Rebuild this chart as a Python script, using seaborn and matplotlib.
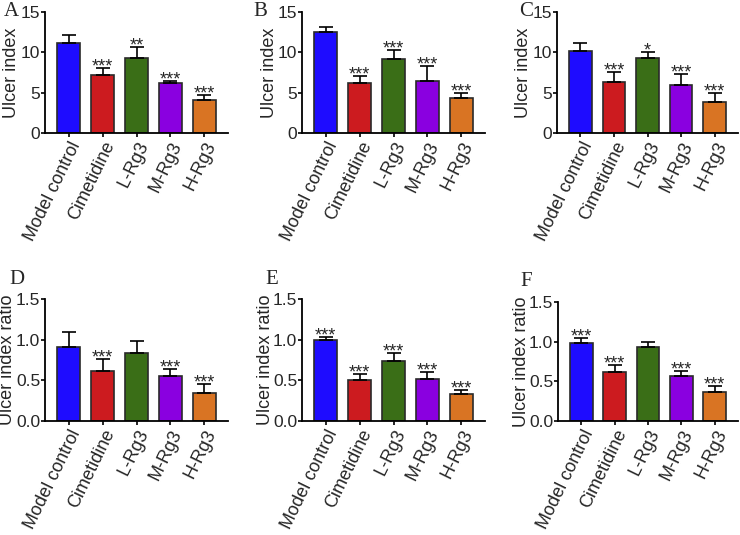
import numpy as np
import pandas as pd
import seaborn as sns
import matplotlib.pyplot as plt

sns.set_style("ticks")
plt.rcParams['font.family'] = ['Liberation Sans', 'DejaVu Sans']

groups = ["Model control", "Cimetidine", "L-Rg3", "M-Rg3", "H-Rg3"]
colors = ["#1e0cff", "#cc1b1f", "#3a6e17", "#8a00e0", "#d97423"]

# panel values (mean) and upper error (SD)
a_mean = [11.1, 7.2, 9.3, 6.2, 4.1]
a_err = [1.1, 0.8, 1.4, 0.3, 0.6]
a_sig = ["", "***", "**", "***", "***"]

b_mean = [12.5, 6.2, 9.2, 6.4, 4.4]
b_err = [0.7, 0.9, 1.1, 1.9, 0.5]
b_sig = ["", "***", "***", "***", "***"]

c_mean = [10.2, 6.3, 9.3, 5.9, 3.8]
c_err = [0.9, 1.3, 0.7, 1.4, 1.1]
c_sig = ["", "***", "*", "***", "***"]

d_mean = [0.91, 0.62, 0.83, 0.55, 0.35]
d_err = [0.18, 0.14, 0.15, 0.09, 0.11]
d_sig = ["", "***", "", "***", "***"]

e_mean = [0.99, 0.51, 0.74, 0.52, 0.33]
e_err = [0.04, 0.07, 0.10, 0.08, 0.05]
e_sig = ["***", "***", "***", "***", "***"]

f_mean = [0.98, 0.62, 0.93, 0.57, 0.37]
f_err = [0.06, 0.09, 0.07, 0.06, 0.07]
f_sig = ["***", "***", "", "***", "***"]

W, H = 740, 535
fig = plt.figure(figsize=(7.4, 5.35), dpi=100)


def panel(rect, mean, err, sig, letter, letter_xy, ylabel, ymax, yticks, ytl, lab_off):
    l, t, r, b = rect
    ax = fig.add_axes([l / W, 1 - b / H, (r - l) / W, (b - t) / H])
    df = pd.DataFrame({"group": groups, "value": mean})
    sns.barplot(data=df, x="group", y="value", hue="group", palette=colors,
                legend=False, width=0.68, edgecolor="#2a2a2a", linewidth=1.2,
                saturation=1, ax=ax)
    x = np.arange(len(groups))
    ax.errorbar(x, mean, yerr=[np.zeros(len(mean)), err], fmt="none",
                ecolor="black", elinewidth=1.2, capsize=5, capthick=1.2)
    for xi, m, e, s in zip(x, mean, err, sig):
        if s:
            ax.annotate(s, (xi, m + e), xytext=(0, -2.5), textcoords="offset points",
                        ha="center", va="baseline", fontsize=13)
    ax.set_xlim(-0.7, 4.7)
    ax.set_ylim(0, ymax)
    ax.set_yticks(yticks)
    ax.set_yticklabels(ytl, fontsize=12.5)
    ax.set_xticks(x)
    ax.set_xticklabels(groups, rotation=64, ha="right", rotation_mode="anchor", fontsize=13)
    ax.set_xlabel("")
    ax.set_ylabel(ylabel, fontsize=13, va="center")
    ax.yaxis.set_label_coords(-lab_off / (r - l), 0.5)
    for sp in ["top", "right"]:
        ax.spines[sp].set_visible(False)
    for sp in ["left", "bottom"]:
        ax.spines[sp].set_linewidth(1.3)
        ax.spines[sp].set_color("black")
    ax.tick_params(axis="both", length=3, width=1.2, color="black", pad=1)
    ax.tick_params(axis="y", pad=0.5)
    fig.text(letter_xy[0] / W, 1 - letter_xy[1] / H, letter, fontsize=15,
             family="Liberation Serif", ha="left", va="top")
    return ax


top_ticks = [0, 5, 10, 15]
top_tl = ["0", "5", "10", "15"]
bot_ticks = [0, 0.5, 1.0, 1.5]
bot_tl = ["0.0", "0.5", "1.0", "1.5"]

panel((45, 12, 228, 133), a_mean, a_err, a_sig, "A", (4, 2), "Ulcer index", 15, top_ticks, top_tl, 33)
panel((302, 12, 485, 133), b_mean, b_err, b_sig, "B", (253, 2), "Ulcer index", 15, top_ticks, top_tl, 33)
panel((557, 12, 738, 133), c_mean, c_err, c_sig, "C", (519, 2), "Ulcer index", 15, top_ticks, top_tl, 33)

panel((45, 299, 228, 421), d_mean, d_err, d_sig, "D", (9, 270), "Ulcer index ratio", 1.5, bot_ticks, bot_tl, 37)
panel((302, 299, 485, 421), e_mean, e_err, e_sig, "E", (265, 270), "Ulcer index ratio", 1.5, bot_ticks, bot_tl, 37)
panel((558, 302, 738, 421), f_mean, f_err, f_sig, "F", (520, 272), "Ulcer index ratio", 1.5, bot_ticks, bot_tl, 37)

fig.savefig("out.png", dpi=100)
